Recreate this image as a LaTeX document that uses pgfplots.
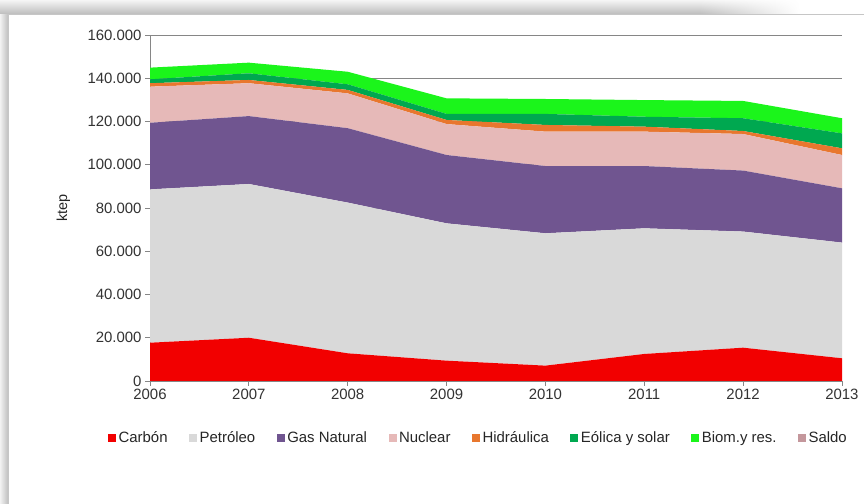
\documentclass[border=0pt]{standalone}
\usepackage{fontspec}
\setmainfont{Liberation Sans}
\usepackage{pgfplots}
\usepackage{pgfplotstable}
\pgfplotsset{compat=1.18}
\usetikzlibrary{fadings}

\definecolor{cCarbon}{HTML}{F20000}
\definecolor{cPetroleo}{HTML}{D9D9D9}
\definecolor{cGas}{HTML}{705590}
\definecolor{cNuclear}{HTML}{E6B9B8}
\definecolor{cHidra}{HTML}{E8772E}
\definecolor{cEolica}{HTML}{00A850}
\definecolor{cBiom}{HTML}{1BF51B}
\definecolor{cSaldo}{HTML}{C4979C}
\definecolor{axisgray}{HTML}{868686}

% ktep por fuente
\pgfplotstableread{
year carbon petroleo gas nuclear hidra eolica biom
2006 17700 70900 30800 16700 1600 1800 5400
2007 20000 71100 31400 15200 1500 3100 4900
2008 12800 69700 34400 16100 1600 2600 5800
2009 9400 63500 31600 14300 1900 2800 7200
2010 7100 61200 31100 15900 3100 5100 6900
2011 12500 58100 28800 15900 2300 4600 7700
2012 15400 53700 28200 16900 1400 5900 8000
2013 10500 53500 25100 15400 3100 6900 7000
}\datos

\begin{document}
\begin{tikzpicture}[x=1bp,y=1bp]
\path[use as bounding box] (0,0) rectangle (864,504);
% marco con sombra
\shade[top color=gray!8, bottom color=gray!55] (0,489) rectangle (700,504);
\shade[top color=gray!8, bottom color=gray!55, path fading=east] (700,489) rectangle (800,504);
\shade[left color=gray!10, right color=gray!50] (0,0) rectangle (8,489);
\fill[white] (8,0) rectangle (864,489);
\draw[gray!45, line width=1bp] (8,0) -- (8,489) -- (864,489);

\begin{axis}[
    at={(150bp,123bp)}, anchor=south west,
    scale only axis,
    width=692bp, height=346bp,
    xmin=2006, xmax=2013,
    ymin=0, ymax=160000,
    xtick={2006,...,2013},
    ytick={0,20000,...,160000},
    axis x line=bottom, axis y line=left,
    axis line style={draw=axisgray, line width=0.8bp, -},
    tick align=outside,
    major tick length=5bp,
    tick style={draw=axisgray, line width=0.8bp},
    ymajorgrids,
    grid style={draw=axisgray, line width=0.8bp},
    axis on top=false,
    stack plots=y,
    /pgf/number format/assume math mode=true,
    scaled y ticks=false,
    yticklabel style={/pgf/number format/fixed, /pgf/number format/1000 sep={.}},
    xticklabel style={/pgf/number format/1000 sep={}},
    ticklabel style={font=\fontsize{15}{18}\selectfont, text=black!80},
    ylabel={ktep},
    ylabel style={font=\fontsize{14.5}{17}\selectfont, text=black!85, at={(axis description cs:-0.125,0.5)}, anchor=center},
    legend columns=-1,
    legend image code/.code={\fill[#1] (0bp,-4bp) rectangle (8bp,4bp);},
    legend style={at={(0.475,-0.165)}, anchor=center, draw=none, fill=none,
        font=\fontsize{15}{18}\selectfont, text=black!85,
        nodes={inner xsep=2.5bp, inner ysep=2bp},
        /tikz/every even column/.append style={column sep=19bp}},
]
\addplot[fill=cCarbon, draw=none] table[x=year, y=carbon] {\datos} \closedcycle;
\addlegendentry{Carbón}
\addplot[fill=cPetroleo, draw=none] table[x=year, y=petroleo] {\datos} \closedcycle;
\addlegendentry{Petróleo}
\addplot[fill=cGas, draw=none] table[x=year, y=gas] {\datos} \closedcycle;
\addlegendentry{Gas Natural}
\addplot[fill=cNuclear, draw=none] table[x=year, y=nuclear] {\datos} \closedcycle;
\addlegendentry{Nuclear}
\addplot[fill=cHidra, draw=none] table[x=year, y=hidra] {\datos} \closedcycle;
\addlegendentry{Hidráulica}
\addplot[fill=cEolica, draw=none] table[x=year, y=eolica] {\datos} \closedcycle;
\addlegendentry{Eólica y solar}
\addplot[fill=cBiom, draw=none] table[x=year, y=biom] {\datos} \closedcycle;
\addlegendentry{Biom.y res.}
\addlegendimage{fill=cSaldo, draw=none}
\addlegendentry{Saldo}
\end{axis}
\end{tikzpicture}
\end{document}
